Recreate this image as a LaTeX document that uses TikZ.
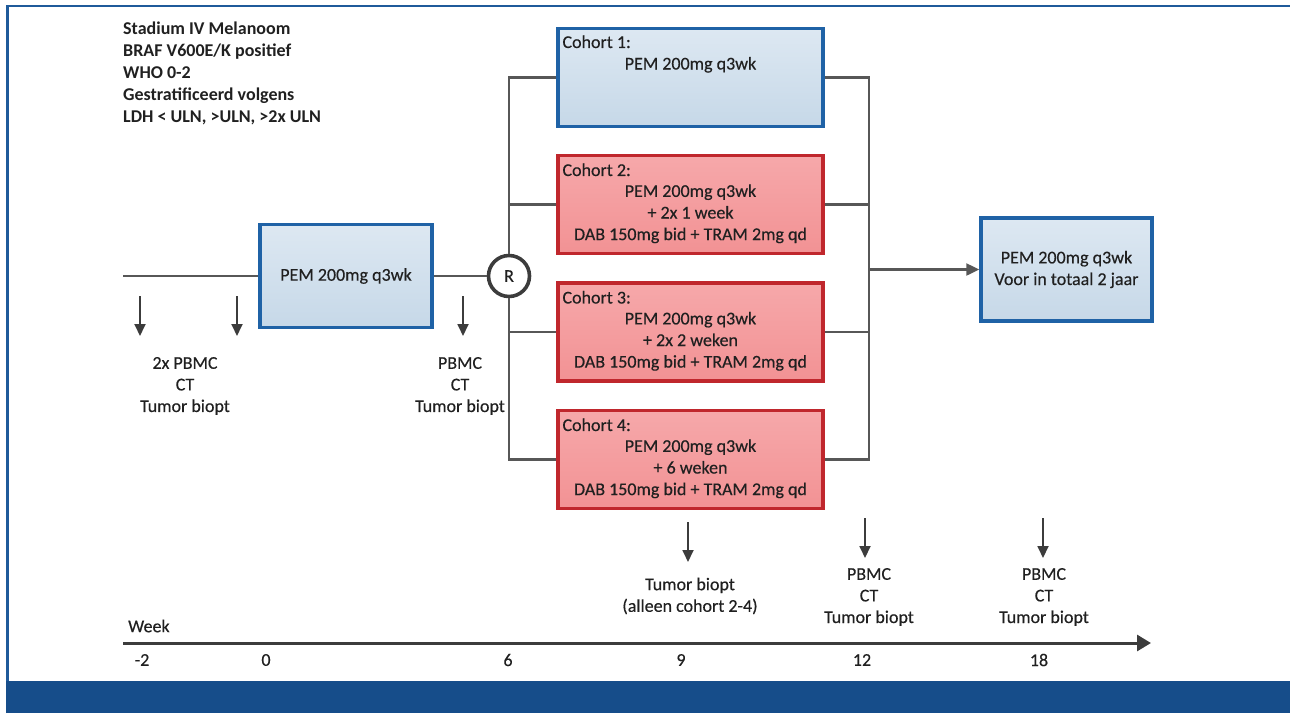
\documentclass[tikz,border=0pt]{standalone}
\usepackage{fontspec}
\setmainfont{Carlito}[UprightFeatures={FakeBold=0.35}]
\usetikzlibrary{arrows.meta}
\definecolor{frameblue}{HTML}{1F5A9A}
\definecolor{bandblue}{HTML}{164D8A}
\definecolor{boxblue}{HTML}{1F62A6}
\definecolor{fillblueA}{HTML}{DDE8F2}
\definecolor{fillblueB}{HTML}{C6D8E8}
\definecolor{boxred}{HTML}{C0272D}
\definecolor{fillredA}{HTML}{F6A8AA}
\definecolor{fillredB}{HTML}{F29294}
\definecolor{linegray}{HTML}{575757}
\definecolor{arrgray}{HTML}{3C3C3C}
\definecolor{txt}{HTML}{202020}
\begin{document}
\begin{tikzpicture}[x=1pt,y=-1pt,
  every node/.style={text=txt,font=\fontsize{18}{21.6}\selectfont,inner sep=0pt},
  bluebox/.style={draw=boxblue,line width=3.4pt,top color=fillblueA,bottom color=fillblueB,rectangle},
  redbox/.style={draw=boxred,line width=3.4pt,top color=fillredA,bottom color=fillredB,rectangle},
  conn/.style={draw=linegray,line width=2.2pt},
  darr/.style={draw=arrgray,line width=1.8pt,-{Triangle[length=12pt,width=11pt]}},
  lbl/.style={align=center},
]
\useasboundingbox (0,0) rectangle (1290,713);
% frame
\draw[frameblue,line width=2.5pt] (7.3,713) -- (7.3,6) -- (1290,6);
\fill[bandblue] (6,681) rectangle (1290,713);

% top-left text
\node[anchor=west,align=left,font=\bfseries\fontsize{18}{22}\selectfont] (crit) at (123,73)
 {Stadium IV Melanoom\\BRAF V600E/K positief\\WHO 0-2\\Gestratificeerd volgens\\LDH {<} ULN, {>}ULN, {>}2x ULN};

% boxes
\node[bluebox,minimum width=172pt,minimum height=103pt] (pem) at (346,276) {PEM 200mg q3wk};
\node[circle,draw=arrgray,line width=3.6pt,fill=white,minimum size=41pt] (R) at (509,276) {};
\node[bluebox,minimum width=265pt,minimum height=98pt] (c1) at (690.5,77.5) {};
\node[redbox,minimum width=265pt,minimum height=98pt] (c2) at (690.5,204.5) {};
\node[redbox,minimum width=265pt,minimum height=98pt] (c3) at (690.5,332) {};
\node[redbox,minimum width=265pt,minimum height=98pt] (c4) at (690.5,459.5) {};
\node[bluebox,minimum width=171pt,minimum height=103pt,align=center] (fin) at (1066.5,269.5) {PEM 200mg q3wk\\Voor in totaal 2 jaar};

% cohort texts
\node[anchor=west] (c1a) at ([xshift=6pt,yshift=-15pt]c1.north west) {Cohort 1:};
\node (c1b) at ([yshift=-38pt]c1.north) {PEM 200mg q3wk};
\node[anchor=west] (c2a) at ([xshift=6pt,yshift=-16pt]c2.north west) {Cohort 2:};
\node[lbl] (c2b) at ([yshift=-60pt]c2.north) {PEM 200mg q3wk\\+ 2x 1 week\\DAB 150mg bid + TRAM 2mg qd};
\node[anchor=west] (c3a) at ([xshift=6pt,yshift=-16pt]c3.north west) {Cohort 3:};
\node[lbl] (c3b) at ([yshift=-60pt]c3.north) {PEM 200mg q3wk\\+ 2x 2 weken\\DAB 150mg bid + TRAM 2mg qd};
\node[anchor=west] (c4a) at ([xshift=6pt,yshift=-16pt]c4.north west) {Cohort 4:};
\node[lbl] (c4b) at ([yshift=-60pt]c4.north) {PEM 200mg q3wk\\+ 6 weken\\DAB 150mg bid + TRAM 2mg qd};

% connectors
\coordinate (start) at (123,276);
\coordinate (J) at (869,269.5);
\draw[conn] (start) -- (pem.west);
\draw[conn] (pem.east) -- (R.west);
\draw[conn] (R.north) |- (c1.west);
\draw[conn] (R.south) |- (c4.west);
\draw[conn] (c2.west) -- (c2.west -| R.center);
\draw[conn] (c3.west) -- (c3.west -| R.center);
\draw[conn] (c1.east) -| (J) |- (c4.east);
\draw[conn] (c2.east) -- (c2.east -| J);
\draw[conn] (c3.east) -- (c3.east -| J);
\draw[conn,-{Triangle[length=13pt,width=12pt]}] (J) -- (fin.west);

\node (Rt) at (R.center) {R};

% down arrows
\coordinate (a1s) at (140,296); \coordinate (a1e) at (140,336);
\coordinate (a2s) at (237,296); \coordinate (a2e) at (237,336);
\coordinate (a3s) at (463,296); \coordinate (a3e) at (463,336);
\coordinate (a4s) at (688,522); \coordinate (a4e) at (688,562);
\coordinate (a5s) at (865,518); \coordinate (a5e) at (865,558);
\coordinate (a6s) at (1043,518); \coordinate (a6e) at (1043,558);
\foreach \i in {1,...,6} {\draw[darr] (a\i s) -- (a\i e);}

\node[lbl] (l1) at (185,386) {2x PBMC\\CT\\Tumor biopt};
\node[lbl] (l2) at (460,386) {PBMC\\CT\\Tumor biopt};
\node[lbl] (l3) at (690,596) {Tumor biopt\\(alleen cohort 2-4)};
\node[lbl] (l4) at (869,597) {PBMC\\CT\\Tumor biopt};
\node[lbl] (l5) at (1044,597) {PBMC\\CT\\Tumor biopt};

% timeline
\coordinate (t0) at (123,643);
\coordinate (t1) at (1151,643);
\draw[draw=arrgray,line width=3pt,-{Triangle[length=14pt,width=16pt]}] (t0) -- (t1);
\node[anchor=west] (wk) at (128,626) {Week};
\node (tm2) at (142,660) {-2};
\node (t00) at (266,660) {0};
\node (t6) at (508,660) {6};
\node (t9) at (681,660) {9};
\node (t12) at (862,660) {12};
\node (t18) at (1039,660) {18};
\end{tikzpicture}
\end{document}
